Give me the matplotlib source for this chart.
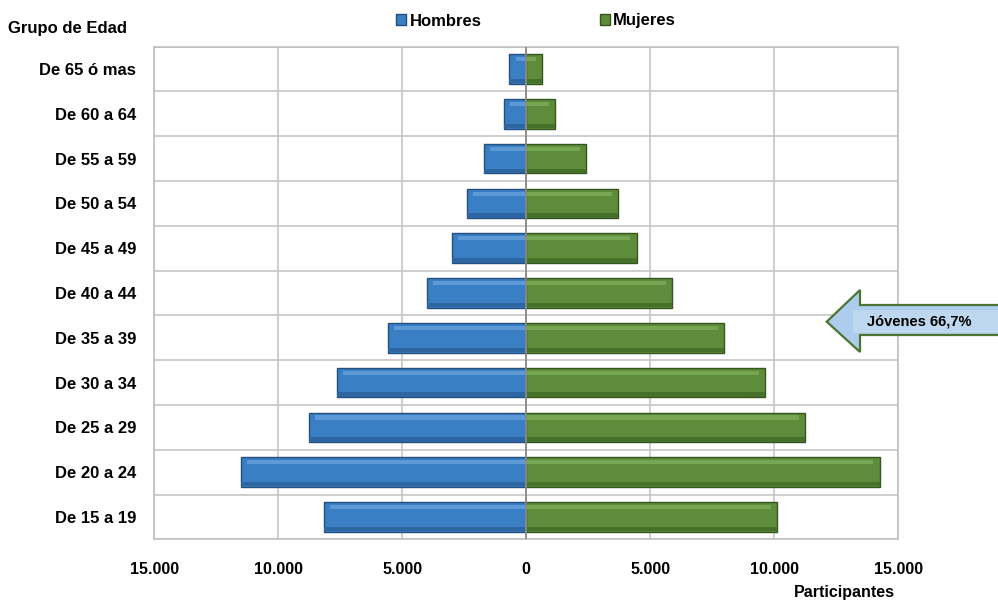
import matplotlib
matplotlib.use("Agg")
import matplotlib.pyplot as plt
from matplotlib.patches import Polygon, Rectangle
from matplotlib.ticker import FuncFormatter, MultipleLocator

plt.rcParams['font.family'] = ['Liberation Sans', 'DejaVu Sans']
plt.rcParams['font.weight'] = 'bold'

# ── Data (bottom to top) ─────────────────────────────────────────────────────
grupos = ["De 15 a 19", "De 20 a 24", "De 25 a 29", "De 30 a 34", "De 35 a 39",
          "De 40 a 44", "De 45 a 49", "De 50 a 54", "De 55 a 59", "De 60 a 64",
          "De 65 ó mas"]
hombres = [8170, 11515, 8775, 7645, 5590, 4015, 2995, 2405, 1705, 900, 685]
mujeres = [10110, 14245, 11240, 9640, 7960, 5880, 4445, 3690, 2400, 1170, 630]

BLUE, BLUE_HI, BLUE_LO, BLUE_EDGE = "#3a7fc4", "#5c99d6", "#2d66a3", "#23507f"
GREEN, GREEN_HI, GREEN_LO, GREEN_EDGE = "#5e8c3a", "#77a652", "#46712a", "#35561f"

W, H = 998, 608
fig = plt.figure(figsize=(W / 100, H / 100), dpi=100)
ax = fig.add_axes([154.3 / W, 1 - 539.3 / H, (898.3 - 154.3) / W, (539.3 - 46.7) / H])

y = list(range(len(grupos)))
neg_h = [-v for v in hombres]
bh = 0.66

# main bars
bars_h = ax.barh(y, neg_h, height=bh, color=BLUE, edgecolor=BLUE_EDGE, lw=1, zorder=3)
bars_m = ax.barh(y, mujeres, height=bh, color=GREEN, edgecolor=GREEN_EDGE, lw=1, zorder=3)

# bevel: light strip on top, dark strip at the bottom
for vals, hi, lo in [(neg_h, BLUE_HI, BLUE_LO), (mujeres, GREEN_HI, GREEN_LO)]:
    inset = [v - 250 * (1 if v > 0 else -1) for v in vals]
    ax.barh([k + bh / 2 - 0.11 for k in y], inset, height=0.09, color=hi, lw=0, zorder=4)
    ax.barh([k - bh / 2 + 0.06 for k in y], vals, height=0.1, color=lo, lw=0, zorder=4)

ax.set_xlim(-15000, 15000)
ax.set_ylim(-0.5, len(grupos) - 0.5)
ax.xaxis.set_major_locator(MultipleLocator(5000))
ax.xaxis.set_major_formatter(FuncFormatter(lambda v, p: f"{abs(int(v)):,}".replace(",", ".")))
ax.set_yticks(y)
ax.set_yticklabels(grupos)
ax.set_yticks([k + 0.5 for k in range(-1, len(grupos))], minor=True)

ax.grid(axis='x', which='major', color="#c6c6c6", lw=1.2, zorder=0)
ax.grid(axis='y', which='minor', color="#c6c6c6", lw=1.2, zorder=0)
ax.tick_params(axis='both', which='both', length=0)
ax.tick_params(axis='x', pad=16, labelsize=11.5)
ax.tick_params(axis='y', pad=13, labelsize=12)
for s in ax.spines.values():
    s.set_color("#c0c0c0")
    s.set_linewidth(1.2)
ax.axvline(0, color="#8a8a8a", lw=1.3, zorder=6)

# titles
fig.text(8 / W, 1 - 28 / H, "Grupo de Edad", fontsize=12, fontweight='bold', va='center')
fig.text(895 / W, 1 - 592 / H, "Participantes", fontsize=11.5, fontweight='bold',
         va='center', ha='right')

fig.legend([bars_h, bars_m], ["Hombres", "Mujeres"], loc='center',
           bbox_to_anchor=(536 / W, 1 - 21 / H), ncol=2, frameon=False,
           fontsize=12, handlelength=0.6, handleheight=0.6, handletextpad=0.2,
           columnspacing=7.1)

# arrow callout
def fp(px, py):
    return (px / W, 1 - py / H)

arrow = Polygon([fp(826.7, 321.7), fp(860, 290), fp(860, 305), fp(1000, 305),
                 fp(1000, 335), fp(860, 335), fp(860, 352)],
                closed=True, transform=fig.transFigure, facecolor="#aecdee",
                edgecolor="#4b7530", lw=1.6, zorder=10)
fig.add_artist(arrow)
x0, y0 = fp(853, 333)
box = Rectangle((x0, y0), (1000 - 853) / W, 23 / H, transform=fig.transFigure,
                facecolor="#bdd7ee", edgecolor='none', zorder=11)
fig.add_artist(box)
fig.text(867 / W, 1 - 321.5 / H, "Jóvenes 66,7%", fontsize=10.5, fontweight='bold',
         va='center', ha='left', zorder=12)

fig.savefig("out.png", dpi=100)
